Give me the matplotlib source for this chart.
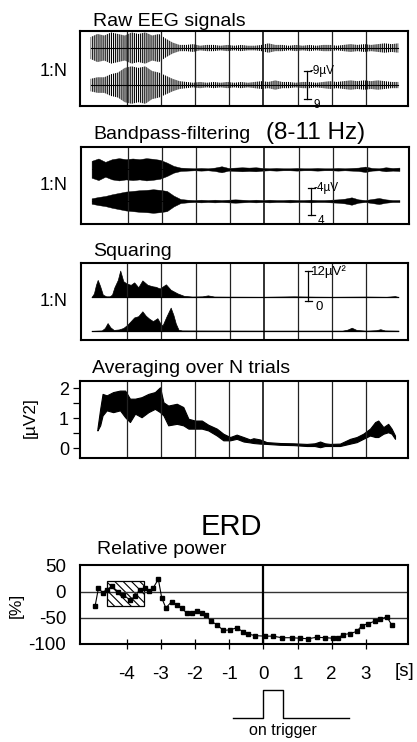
import numpy as np
import matplotlib.pyplot as plt
from matplotlib.patches import Rectangle

plt.rcParams['font.family'] = ['Liberation Sans', 'DejaVu Sans']
plt.rcParams['hatch.linewidth'] = 0.8
plt.rcParams['axes.unicode_minus'] = False

W, H = 417, 742
t_lim = (-5.36, 4.23)
seconds = [-4, -3, -2, -1, 0, 1, 2, 3]

# envelope time grid [s] (samples read every 0.2 s off the picture)
t_eeg = np.round(np.arange(-5.05, 3.96, 0.2), 2)

# raw EEG, half amplitude [uV], two example trials
raw_trial1 = [7, 9, 8, 10, 9, 8, 10, 9, 10, 8, 9, 6, 3.5, 2, 2, 2.5, 1.5, 2, 2, 1.5,
              2, 1.5, 2, 1.5, 1.5, 2, 3, 2, 2, 1.5, 2, 1.5, 2, 1.5, 2, 2, 1.5, 2,
              2.5, 2, 2.5, 2, 2.5, 3, 2.5, 3]
raw_trial2 = [4, 5, 5, 7, 8, 11, 12, 11, 12, 9, 8, 6, 4, 2.5, 2, 1.5, 2, 1.5, 2, 1.5,
              2, 1.5, 2, 1.5, 2, 2.5, 2, 3, 2, 2, 1.5, 2, 2, 1.5, 2, 2.5, 2, 2.5,
              3, 2.5, 3, 2.5, 3, 2.5, 2, 2]

# bandpass filtered (8-11 Hz), half amplitude [uV]
bp_trial1 = [2.5, 3.2, 2.2, 3.0, 3.3, 3.0, 3.2, 3.0, 3.3, 3.1, 2.8, 2.0, 1.0, 0.5, 0.4,
             0.3, 0.4, 0.3, 0.5, 0.9, 0.4, 0.5, 0.6, 0.5, 0.6, 0.4, 0.3, 0.4, 0.3, 0.3,
             0.4, 0.3, 0.3, 0.4, 0.3, 0.3, 0.4, 0.3, 0.4, 0.5, 0.8, 0.4, 0.3, 0.6, 0.4, 0.5]
bp_trial2 = [0.8, 1.2, 1.5, 2.0, 2.4, 2.8, 3.0, 3.2, 3.3, 3.5, 3.3, 3.0, 1.6, 0.6, 0.4,
             0.3, 0.4, 0.3, 0.4, 0.3, 0.4, 0.5, 0.4, 0.3, 0.4, 0.3, 0.4, 0.3, 0.3, 0.4,
             0.3, 0.3, 0.4, 0.3, 0.3, 0.4, 0.5, 0.7, 1.1, 0.5, 0.3, 0.6, 0.9, 0.5, 0.3, 0.3]

# squared signal [uV^2]
sq1_t = [-5.05, -4.98, -4.92, -4.87, -4.80, -4.72, -4.62, -4.52, -4.45, -4.38, -4.28,
         -4.21, -4.12, -4.02, -3.90, -3.80, -3.68, -3.56, -3.41, -3.26, -3.17, -3.05,
         -2.87, -2.73, -2.53, -2.34, -2.10, -1.80, -1.64, -1.45, -1.00, 0.00, 0.88,
         1.50, 2.00, 3.00, 3.60, 3.85, 3.95]
sq1_v = [0, 1.5, 5, 7, 4.5, 1, 0.3, 0.3, 1, 4, 7, 10.8, 6.5, 5.5, 5, 6, 4, 6.8, 5,
         4.4, 4.2, 3.5, 5.2, 3, 1.5, 0.5, 0.2, 0.3, 0.7, 0.2, 0.15, 0.1, 0.3, 0.15,
         0.1, 0.2, 0.1, 0.4, 0]
sq2_t = [-5.05, -4.75, -4.66, -4.58, -4.50, -4.40, -4.25, -4.12, -4.00, -3.80, -3.68,
         -3.56, -3.46, -3.36, -3.25, -3.12, -3.03, -2.97, -2.85, -2.73, -2.65, -2.58,
         -2.50, -2.40, -1.50, 0.00, 2.30, 2.45, 2.58, 2.72, 3.00, 3.30, 3.42, 3.55, 3.95]
sq2_v = [0, 0.2, 1.2, 3.2, 1.5, 0.4, 0.6, 1.2, 2.5, 5.5, 6, 8, 6.2, 5, 4, 5.2, 3,
         2.2, 6, 9.5, 6.5, 3, 0.5, 0.2, 0.15, 0.1, 0.1, 0.5, 1.3, 0.4, 0.1, 0.3, 0.7,
         0.2, 0.1]

# average over N trials [uV^2], band between lower and upper trace
avg_t = [-4.85, -4.77, -4.70, -4.58, -4.39, -4.19, -4.04, -3.90, -3.75, -3.56, -3.36,
         -3.17, -3.02, -2.92, -2.78, -2.53, -2.34, -2.19, -2.00, -1.80, -1.61, -1.36,
         -1.17, -0.97, -0.78, -0.58, -0.39, -0.29, -0.10, 0.10, 0.49, 0.88, 1.27, 1.50,
         1.66, 1.80, 1.95, 2.24, 2.54, 2.73, 2.92, 3.12, 3.27, 3.36, 3.51, 3.65, 3.75, 3.85]
avg_hi = [0.67, 1.32, 1.82, 1.77, 1.88, 1.93, 1.93, 1.66, 1.66, 1.71, 1.82, 1.88, 2.04,
          1.54, 1.43, 1.49, 1.38, 0.99, 0.93, 0.93, 0.79, 0.66, 0.49, 0.38, 0.46, 0.38,
          0.30, 0.34, 0.30, 0.21, 0.18, 0.17, 0.15, 0.17, 0.23, 0.17, 0.15, 0.16, 0.32,
          0.38, 0.49, 0.66, 0.88, 0.93, 0.71, 0.82, 0.66, 0.43]
avg_lo = [0.60, 0.77, 1.10, 1.27, 1.21, 1.27, 1.04, 0.88, 1.16, 1.04, 1.21, 1.32, 1.21,
          1.10, 0.77, 0.82, 0.77, 0.66, 0.66, 0.66, 0.60, 0.43, 0.27, 0.27, 0.32, 0.23,
          0.20, 0.18, 0.16, 0.15, 0.12, 0.11, 0.08, 0.08, 0.04, 0.08, 0.08, 0.08, 0.16,
          0.21, 0.32, 0.43, 0.38, 0.38, 0.49, 0.54, 0.49, 0.32]

# ERD, relative power [%]
erd_t = [-4.92, -4.82, -4.70, -4.58, -4.43, -4.24, -4.09, -3.90, -3.75, -3.61, -3.46,
         -3.33, -3.22, -3.07, -2.97, -2.85, -2.68, -2.53, -2.39, -2.24, -2.09, -1.95,
         -1.80, -1.68, -1.54, -1.36, -1.17, -0.97, -0.78, -0.58, -0.44, -0.24, 0.05,
         0.29, 0.54, 0.83, 1.07, 1.32, 1.56, 1.80, 2.05, 2.19, 2.34, 2.54, 2.73, 2.88,
         3.07, 3.27, 3.41, 3.61, 3.75]
erd_v = [-28, 7, -2, 4, 10, 0, -6, -16, -9, 4, 7, 2, 7, 24, -12, -31, -19, -25, -31,
         -41, -41, -36, -41, -44, -56, -63, -74, -73, -69, -77, -81, -84, -85, -85,
         -88, -88, -89, -90, -87, -88, -89, -88, -82, -80, -76, -65, -61, -56, -53,
         -48, -63]
ref_t = (-4.58, -3.49)      # reference interval
ref_v = (-27, 21)

trig_t = [-0.89, 0, 0, 0.58, 0.58, 2.5]
trig_v = [0, 0, 1, 1, 0, 0]


fig = plt.figure(figsize=(W / 100, H / 100), dpi=100)


def fx(px):
    return px / W


def fy(py):
    return 1 - py / H


def panel(x0, y0, x1, y1, grid=True):
    ax = fig.add_axes([fx(x0), fy(y1), (x1 - x0) / W, (y1 - y0) / H])
    ax.set_xlim(*t_lim)
    for s in ax.spines.values():
        s.set_linewidth(1.5)
    if grid:
        for s in seconds:
            ax.axvline(s, color='#222222', lw=1.3 if s == 0 else 0.9)
    return ax


def scale_bar(ax, t, lo, hi, top_lbl, bot_lbl, cap=0.1, size=8.5):
    ax.plot([t, t], [lo, hi], color='black', lw=0.9)
    ax.plot([t - cap, t + cap], [lo, lo], color='black', lw=0.9)
    ax.plot([t - cap, t + cap], [hi, hi], color='black', lw=0.9)
    ax.text(t + 0.08, hi, top_lbl, fontsize=size, va='center', ha='left')
    ax.text(t + 0.2, lo, bot_lbl, fontsize=size, va='top', ha='left')


title_kw = dict(fontsize=14, va='baseline', ha='left')

# --- raw EEG ---
ax1 = panel(80, 31, 408, 106)
ax1.set_ylim(-24, 24)
for base, env in [(13.1, raw_trial1), (-10.6, raw_trial2)]:
    env = np.array(env)
    ax1.fill_between(t_eeg, base - env, base + env, facecolor='none',
                     edgecolor='black', hatch='||||||||', linewidth=0)
    ax1.plot(t_eeg, np.full(len(t_eeg), base), color='black', lw=0.8)
scale_bar(ax1, 1.28, -10.6 - 9, -10.6 + 9, '-9µV', '9')
ax1.set_xticks([])
ax1.set_yticks([])
fig.text(fx(93), fy(26), 'Raw EEG signals', **title_kw)
fig.text(fx(54), fy(72), '1:N', fontsize=13, ha='center', va='center')

# --- bandpass ---
ax2 = panel(81, 147, 409, 224)
ax2.set_ylim(-11.4, 11.4)
for base, env in [(4.8, bp_trial1), (-4.6, bp_trial2)]:
    env = np.array(env)
    ax2.fill_between(t_eeg, base - env, base + env, color='black', linewidth=0.3)
    ax2.plot(t_eeg, np.full(len(t_eeg), base), color='black', lw=0.7)
scale_bar(ax2, 1.37, -4.6 - 4, -4.6 + 4, '-4µV', '4')
ax2.set_xticks([])
ax2.set_yticks([])
fig.text(fx(93), fy(139), 'Bandpass-filtering', **title_kw)
fig.text(fx(266), fy(139), '(8-11 Hz)', fontsize=17.5, va='baseline', ha='left')
fig.text(fx(54), fy(186), '1:N', fontsize=13, ha='center', va='center')

# --- squaring ---
ax3 = panel(81, 263, 408, 340)
ax3.set_ylim(0, 31.4)
for base, tt, vv in [(17.5, sq1_t, sq1_v), (3.7, sq2_t, sq2_v)]:
    ax3.plot([tt[0], tt[-1]], [base, base], color='black', lw=0.9)
    ax3.fill_between(tt, base, base + np.array(vv), color='black', linewidth=0.5)
scale_bar(ax3, 1.31, 17.5 - 1.5, 17.5 + 10.5, '12µV²', '0', size=9.5)
ax3.set_xticks([])
ax3.set_yticks([])
fig.text(fx(93), fy(256), 'Squaring', **title_kw)
fig.text(fx(54), fy(302), '1:N', fontsize=13, ha='center', va='center')

# --- averaging ---
ax4 = panel(80, 381, 408, 458)
ax4.set_ylim(-0.32, 2.25)
ax4.fill_between(avg_t, avg_lo, avg_hi, color='black', linewidth=0.8)
ax4.set_xticks([])
ax4.set_yticks([0, 1, 2])
ax4.set_yticks([0.5, 1.5], minor=True)
ax4.tick_params(axis='y', which='both', length=5, width=0.9, labelsize=13, pad=3)
ax4.set_ylabel('[µV2]', fontsize=12.5)
ax4.yaxis.set_label_coords(-0.13, 0.53)
fig.text(fx(92), fy(373), 'Averaging over N trials', **title_kw)

# --- ERD ---
ax5 = panel(80, 565, 408, 644, grid=False)
ax5.set_ylim(-100, 51)
ax5.axhline(0, color='#333333', lw=1.0)
ax5.axhline(-50, color='#333333', lw=1.0)
ax5.axvline(0, color='black', lw=1.6)
ax5.add_patch(Rectangle((ref_t[0], ref_v[0]), ref_t[1] - ref_t[0], ref_v[1] - ref_v[0],
                        facecolor='none', edgecolor='black', hatch='\\\\\\\\', lw=0.9))
ax5.plot(erd_t, erd_v, color='black', lw=0.8, marker='s', markersize=2.6)
ax5.set_xticks(seconds)
ax5.set_xticklabels([str(s) for s in seconds])
ax5.set_yticks([50, 0, -50, -100])
ax5.tick_params(axis='x', direction='inout', length=7, width=0.9, labelsize=13.5, pad=12)
ax5.tick_params(axis='y', length=0, labelsize=13.5, pad=10)
ax5.set_ylabel('[%]', fontsize=12.5)
ax5.yaxis.set_label_coords(-0.172, 0.49)
fig.text(fx(405), fy(672), '[s]', fontsize=13.5, ha='center', va='center')
fig.text(fx(231), fy(535), 'ERD', fontsize=21, ha='center', va='baseline')
fig.text(fx(97), fy(554), 'Relative power', **title_kw)

# --- trigger ---
ax6 = fig.add_axes([fx(80), fy(742), (408 - 80) / W, (742 - 680) / H])
ax6.set_xlim(*t_lim)
ax6.set_ylim(-24 / 28, 1 + 10 / 28)
ax6.plot(trig_t, trig_v, color='black', lw=1.0)
ax6.axis('off')
fig.text(fx(283), fy(731), 'on trigger', fontsize=11.5, ha='center', va='center')

fig.savefig('out.png', dpi=100)
